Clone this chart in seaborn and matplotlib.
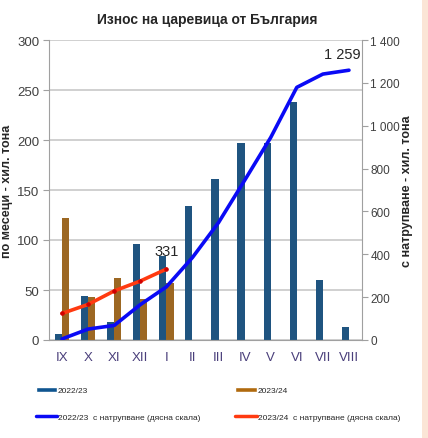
import numpy as np
import pandas as pd
import seaborn as sns
import matplotlib.pyplot as plt
from matplotlib.patches import Patch, Rectangle
from matplotlib.lines import Line2D
from matplotlib.ticker import FuncFormatter

# data
months = ['IX', 'X', 'XI', 'XII', 'I', 'II', 'III', 'IV', 'V', 'VI', 'VII', 'VIII']
monthly_2223 = [6, 44, 18, 96, 84, 134, 161, 197, 197, 238, 60, 13]
monthly_2324 = [122, 43, 62, 41, 57]
cum_2223 = [5, 51, 68, 165, 248, 385, 548, 745, 945, 1179, 1241, 1259]
cum_2324 = [124, 166, 229, 275, 331]
seasons = ['2022/23', '2023/24']

bar_colors = {'2022/23': '#0F5590', '2023/24': '#B06A0E'}
line_blue = '#0A0AF5'
line_red = '#FF3A10'

sns.set_style('white')
plt.rcParams['font.family'] = ['Liberation Sans', 'DejaVu Sans']

bars = pd.DataFrame({
    'month': months * 2,
    'season': ['2022/23'] * 12 + ['2023/24'] * 12,
    'value': monthly_2223 + monthly_2324 + [np.nan] * (12 - len(monthly_2324)),
})

fig = plt.figure(figsize=(4.28, 4.39), dpi=100)
fig.patches.append(Rectangle((422 / 428, 0), 6 / 428, 1, transform=fig.transFigure,
                             facecolor='#FBE5D6', edgecolor='none', zorder=0))
ax = fig.add_axes([49 / 428, 1 - 341 / 439, 313 / 428, 300 / 439])

sns.barplot(data=bars, x='month', y='value', hue='season', order=months,
            palette=bar_colors, width=0.55, dodge=True, legend=False,
            edgecolor='none', ax=ax)

ax.set_ylim(0, 300)
ax.set_yticks(range(0, 301, 50))
ax.set_xlim(-0.5, 11.5)
ax.yaxis.grid(True, color='#C8C8C8', linewidth=1.2)
ax.set_axisbelow(True)
ax.set_xlabel('')
ax.set_ylabel('по месеци - хил. тона', fontsize=9, fontweight='bold')
ax.yaxis.set_label_coords(-0.115, 0.5)

for s in ['top', 'right']:
    ax.spines[s].set_visible(False)
for s in ['left', 'bottom']:
    ax.spines[s].set_color('#A0A0A0')

ax.set_xticks(range(12))
ax.set_xticklabels(months)
ax.set_xticks(np.arange(-0.5, 12, 1), minor=True)
ax.tick_params(axis='x', which='major', length=0, labelsize=9.5, labelcolor='#4A3F7B', pad=8)
ax.tick_params(axis='x', which='minor', length=4, color='#A0A0A0', direction='out')
ax.tick_params(axis='y', length=4, color='#A0A0A0', labelsize=9.5, labelcolor='#404040', pad=3)

ax2 = ax.twinx()
x_pos = np.arange(len(months))
sns.lineplot(x=x_pos, y=cum_2223, color=line_blue, linewidth=2.6, ax=ax2)
sns.lineplot(x=x_pos[:len(cum_2324)], y=cum_2324, color=line_red, linewidth=2.6,
             marker='o', markersize=2.5, markerfacecolor='#D00000',
             markeredgecolor='#D00000', ax=ax2)
ax2.set_ylim(0, 1400)
ax2.set_yticks(range(0, 1401, 200))
ax2.yaxis.set_major_formatter(FuncFormatter(lambda v, p: f'{int(v):,}'.replace(',', ' ')))
ax2.tick_params(axis='y', length=4, color='#A0A0A0', labelsize=8.5, labelcolor='#404040', pad=2)
ax2.set_ylabel('с натрупване - хил. тона', fontsize=9, fontweight='bold')
ax2.yaxis.set_label_coords(1.125, 0.5)
for s in ['top', 'left', 'bottom']:
    ax2.spines[s].set_visible(False)
ax2.spines['right'].set_color('#A0A0A0')

ax2.annotate(str(cum_2324[-1]), (len(cum_2324) - 1, cum_2324[-1]),
             xytext=(0, 10), textcoords='offset points', ha='center', fontsize=10.5)
ax2.annotate(f'{cum_2223[-1]:,}'.replace(',', ' '), (len(cum_2223) - 1, cum_2223[-1]),
             xytext=(-5, 9), textcoords='offset points', ha='center', fontsize=10.5)

fig.text(207 / 428, 1 - 20 / 439, 'Износ на царевица от България', ha='center', va='center',
         fontsize=10, fontweight='bold')

legend_kw = dict(loc='upper left', frameon=False, fontsize=6, handlelength=2.6,
                 handletextpad=0.1, labelspacing=2.3, handleheight=0.6)
leg1 = fig.legend([Patch(facecolor=bar_colors['2022/23']),
                   Line2D([0], [0], color=line_blue, linewidth=2.5)],
                  ['2022/23', '2022/23  с натрупване (дясна скала)'],
                  bbox_to_anchor=(28 / 428, 1 - 380 / 439), **legend_kw)
leg2 = fig.legend([Patch(facecolor=bar_colors['2023/24']),
                   Line2D([0], [0], color=line_red, linewidth=2.5)],
                  ['2023/24', '2023/24  с натрупване (дясна скала)'],
                  bbox_to_anchor=(228 / 428, 1 - 380 / 439), **legend_kw)

fig.savefig('out.png', dpi=100)
